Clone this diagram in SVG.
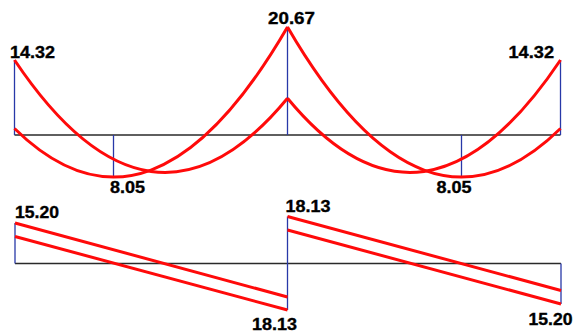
<svg xmlns="http://www.w3.org/2000/svg" width="574" height="333" viewBox="0 0 574 333">
<style>
.base{stroke:#2a2a2a;stroke-width:1.5;fill:none}
.ord{stroke:#2838a8;stroke-width:1.3;fill:none}
.curve{stroke:#ff0a0a;stroke-width:3;fill:none;stroke-linejoin:miter}
.lbl{font-family:"Liberation Sans",Arial,sans-serif;font-weight:bold;font-size:16.5px;fill:#000;stroke:#000;stroke-width:0.35}
</style>
<rect width="574" height="333" fill="#fff"/>
<g id="moment">
  <g id="moment-axes">
    <line class="base" x1="14.5" y1="135" x2="560.5" y2="135"/>
    <line class="ord" x1="14.5" y1="60" x2="14.5" y2="135"/>
    <line class="ord" x1="287.5" y1="26.7" x2="287.5" y2="135"/>
    <line class="ord" x1="560.5" y1="60" x2="560.5" y2="135"/>
    <line class="ord" x1="113.5" y1="135" x2="113.5" y2="177"/>
    <line class="ord" x1="461.5" y1="135" x2="461.5" y2="177"/>
  </g>
  <g id="moment-curves">
    <path class="curve" d="M14.5 60 Q151 263.7 287.5 98.3"/>
    <path class="curve" d="M14.5 128.5 Q151 262.3 287.5 27.1"/>
    <path class="curve" d="M560.5 60 Q424 263.7 287.5 98.3"/>
    <path class="curve" d="M560.5 128.5 Q424 262.3 287.5 27.1"/>
  </g>
  <g id="moment-labels">
    <text class="lbl" x="10" y="58" textLength="45" lengthAdjust="spacingAndGlyphs">14.32</text>
    <text class="lbl" x="268" y="23.5" textLength="47" lengthAdjust="spacingAndGlyphs">20.67</text>
    <text class="lbl" x="508.5" y="58" textLength="45.5" lengthAdjust="spacingAndGlyphs">14.32</text>
    <text class="lbl" x="110" y="193" textLength="35" lengthAdjust="spacingAndGlyphs">8.05</text>
    <text class="lbl" x="436.5" y="193" textLength="35" lengthAdjust="spacingAndGlyphs">8.05</text>
  </g>
</g>
<g id="shear">
  <g id="shear-axes">
    <line class="base" x1="15" y1="263.5" x2="561" y2="263.5"/>
    <line class="ord" x1="15" y1="223" x2="15" y2="263.5"/>
    <line class="ord" x1="287.5" y1="216.5" x2="287.5" y2="310"/>
    <line class="ord" x1="561" y1="263.5" x2="561" y2="304"/>
  </g>
  <g id="shear-lines">
    <line class="curve" x1="15" y1="223" x2="287.5" y2="297"/>
    <line class="curve" x1="15" y1="236.5" x2="287.5" y2="310"/>
    <line class="curve" x1="287.5" y1="216.5" x2="561" y2="290.5"/>
    <line class="curve" x1="287.5" y1="230" x2="561" y2="304"/>
  </g>
  <g id="shear-labels">
    <text class="lbl" x="15" y="218" textLength="44" lengthAdjust="spacingAndGlyphs">15.20</text>
    <text class="lbl" x="252" y="330" textLength="45" lengthAdjust="spacingAndGlyphs">18.13</text>
    <text class="lbl" x="285.5" y="211.5" textLength="45" lengthAdjust="spacingAndGlyphs">18.13</text>
    <text class="lbl" x="528.5" y="325" textLength="44" lengthAdjust="spacingAndGlyphs">15.20</text>
  </g>
</g>
</svg>
